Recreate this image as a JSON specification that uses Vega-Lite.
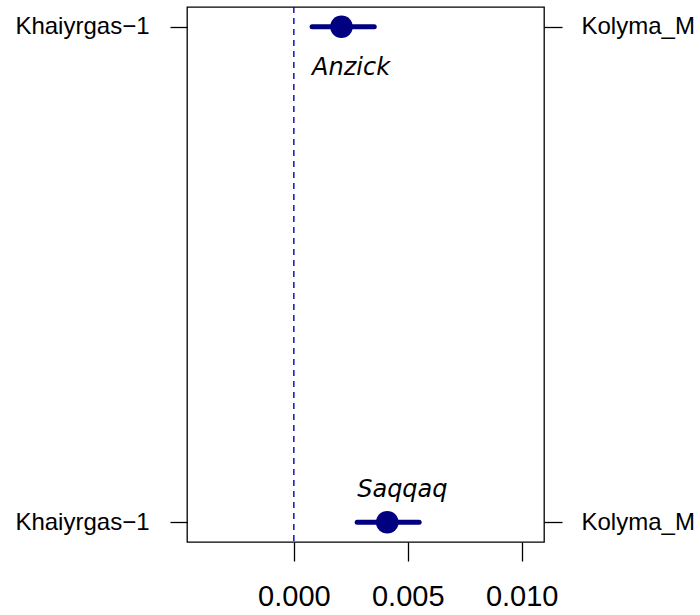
{
  "$schema": "https://vega.github.io/schema/vega-lite/v6.json",
  "width": 357,
  "height": 535,
  "autosize": {"type": "none"},
  "padding": {"left": 187, "top": 7, "right": 156, "bottom": 73},
  "background": "white",
  "config": {
    "view": {"stroke": "black", "strokeWidth": 1.3},
    "font": "Liberation Sans"
  },
  "data": {
    "values": [
      {"pop": "Anzick", "row": 1, "est": 0.00209, "lo": 0.00080, "hi": 0.00353},
      {"pop": "Saqqaq", "row": 2, "est": 0.00410, "lo": 0.00278, "hi": 0.00550}
    ]
  },
  "layer": [
    {
      "mark": {"type": "rule", "color": "#0000b8", "strokeWidth": 1.4, "strokeDash": [6, 5]},
      "data": {"values": [{"zero": 0}]},
      "encoding": {
        "x": {"field": "zero", "type": "quantitative", "scale": {"domain": [-0.00469, 0.01098], "nice": false, "zero": false}}
      }
    },
    {
      "mark": {"type": "rule", "color": "#000080", "strokeWidth": 5, "strokeCap": "round"},
      "encoding": {
        "x": {"field": "lo", "type": "quantitative", "scale": {"domain": [-0.00469, 0.01098], "nice": false, "zero": false},
          "axis": {"values": [0, 0.005, 0.01], "format": ".3f", "title": null, "grid": false, "domain": false,
            "tickSize": 19, "tickWidth": 1.3, "tickColor": "black", "labelFontSize": 29, "labelColor": "black",
            "labelFont": "Liberation Sans", "labelPadding": 21, "labelFlush": false}},
        "x2": {"field": "hi"},
        "y": {"field": "row", "type": "quantitative", "scale": {"domain": [0.96, 2.04], "reverse": true, "nice": false, "zero": false},
          "axis": {"orient": "left", "values": [1, 2], "labelExpr": "'Khaiyrgas\u22121'", "title": null, "grid": false, "domain": false,
            "tickSize": 17, "tickWidth": 1.3, "tickColor": "black", "labelFontSize": 24, "labelColor": "black",
            "labelFont": "Liberation Sans", "labelPadding": 21, "labelFlush": false}}
      }
    },
    {
      "mark": {"type": "point", "filled": true, "shape": "circle", "size": 510, "color": "#000080", "opacity": 1},
      "encoding": {
        "x": {"field": "est", "type": "quantitative"},
        "y": {"field": "row", "type": "quantitative",
          "axis": {"orient": "right", "values": [1, 2], "labelExpr": "'Kolyma_M'", "title": null, "grid": false, "domain": false,
            "tickSize": 18, "tickWidth": 1.3, "tickColor": "black", "labelFontSize": 24, "labelColor": "black",
            "labelFont": "Liberation Sans", "labelPadding": 19, "labelFlush": false}}
      }
    },
    {
      "transform": [{"filter": "datum.pop === 'Anzick'"}],
      "mark": {"type": "text", "font": "DejaVu Sans", "fontStyle": "italic", "fontSize": 24, "align": "left", "baseline": "alphabetic", "dy": 48, "color": "black"},
      "encoding": {
        "x": {"field": "lo", "type": "quantitative"},
        "y": {"field": "row", "type": "quantitative", "axis": null},
        "text": {"field": "pop"}
      }
    },
    {
      "transform": [{"filter": "datum.pop === 'Saqqaq'"}],
      "mark": {"type": "text", "font": "DejaVu Sans", "fontStyle": "italic", "fontSize": 24, "align": "left", "baseline": "alphabetic", "dy": -25, "color": "black"},
      "encoding": {
        "x": {"field": "lo", "type": "quantitative"},
        "y": {"field": "row", "type": "quantitative", "axis": null},
        "text": {"field": "pop"}
      }
    }
  ],
  "resolve": {"axis": {"y": "independent"}}
}
